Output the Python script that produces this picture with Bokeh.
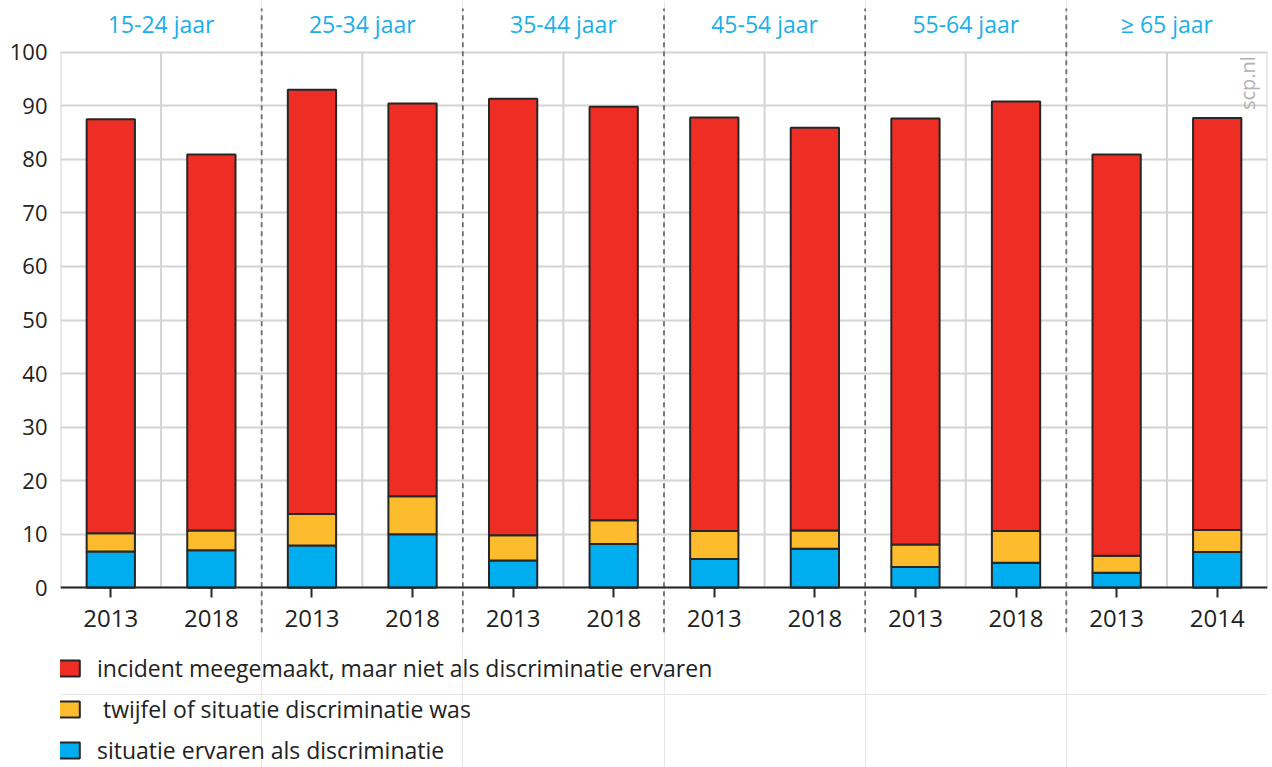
import math
from bokeh.plotting import figure
from bokeh.models import (Range1d, FixedTicker, LinearAxis, Label, Legend,
                          LegendItem, ColumnDataSource, Grid)
from bokeh.embed import file_html
from bokeh.resources import INLINE

# ---- data ----
groups = ["15-24 jaar", "25-34 jaar", "35-44 jaar", "45-54 jaar", "55-64 jaar", "\u2265 65 jaar"]
years = ["2013", "2018", "2013", "2018", "2013", "2018",
         "2013", "2018", "2013", "2018", "2013", "2014"]
ervaren = [6.8, 7.0, 7.9, 10.0, 5.1, 8.2, 5.4, 7.3, 3.9, 4.7, 2.8, 6.7]
twijfel = [3.4, 3.7, 5.9, 7.1, 4.7, 4.4, 5.2, 3.4, 4.2, 5.9, 3.2, 4.1]
incident = [77.3, 70.2, 79.2, 73.3, 81.5, 77.2, 77.2, 75.2, 79.5, 80.2, 74.9, 76.9]
series_keys = ["ervaren", "twijfel", "incident"]
series_labels = ["situatie ervaren als discriminatie",
                 " twijfel of situatie discriminatie was",
                 "incident meegemaakt, maar niet als discriminatie ervaren"]
series_colors = ["#00aeef", "#fdbb2e", "#ee2e24"]
yticks = list(range(0, 101, 10))

n = len(years)
per_group = n // len(groups)
xpos = [i + 0.5 for i in range(n)]
group_centers = [g * per_group + per_group / 2 for g in range(len(groups))]
separators = [g * per_group for g in range(1, len(groups))]
vgrid = [i for i in range(n + 1) if i not in separators]

source = ColumnDataSource(dict(x=xpos, ervaren=ervaren, twijfel=twijfel, incident=incident))

FONT = "Open Sans"
DARK = "#262626"
DASH = "#6e6e6e"
GRID = "#d4d4d4"
DASHPAT = "5 4"

W, H = 1272, 767
# frame spans the full height; value axis 0..100 occupies the upper part
PX_PER_UNIT = 5.356
TOP_PX = 51.7      # pixel row of value 100
ZERO_PX = 587.3    # pixel row of value 0
Y_TOP = 100 + TOP_PX / PX_PER_UNIT
Y_BOTTOM = -(H - ZERO_PX) / PX_PER_UNIT
SEP_HIGH = 100 + (TOP_PX - 8) / PX_PER_UNIT
SEP_LOW = -44.5 / PX_PER_UNIT

p = figure(width=W, height=H, x_range=Range1d(0, n), y_range=Range1d(Y_BOTTOM, Y_TOP),
           output_backend="svg", toolbar_location=None,
           x_axis_location=None, y_axis_location=None,
           min_border_left=60, min_border_right=5, min_border_top=0, min_border_bottom=0,
           outline_line_color=None)

# horizontal grid
p.add_layout(Grid(dimension=1, ticker=FixedTicker(ticks=yticks),
                  grid_line_color=GRID, grid_line_width=2))
# vertical grid (only over the value area)
p.segment(x0=vgrid, x1=vgrid, y0=[yticks[0]] * len(vgrid), y1=[yticks[-1]] * len(vgrid),
          line_color=GRID, line_width=2)
# dashed group separators
p.segment(x0=separators, x1=separators, y0=[SEP_LOW] * len(separators),
          y1=[SEP_HIGH] * len(separators), line_color=DASH, line_width=1.8,
          line_dash=DASHPAT)

# bars
renderers = p.vbar_stack(series_keys, x="x", width=0.48, source=source,
                         fill_color=series_colors, line_color=DARK, line_width=2)

# y axis
yaxis = LinearAxis(ticker=FixedTicker(ticks=yticks),
                   axis_line_color=None, major_tick_line_color=None,
                   minor_tick_line_color=None,
                   major_label_text_font=FONT, major_label_text_font_size="22px",
                   major_label_text_color="#222222", major_label_standoff=7)
p.add_layout(yaxis, "left")

# x axis at value 0
xaxis = LinearAxis(ticker=FixedTicker(ticks=xpos),
                   major_label_overrides={x: y for x, y in zip(xpos, years)},
                   fixed_location=0,
                   axis_line_color=DARK, axis_line_width=2,
                   major_tick_in=0, major_tick_out=10,
                   major_tick_line_color=DARK, major_tick_line_width=2,
                   minor_tick_line_color=None,
                   major_label_text_font=FONT, major_label_text_font_size="24px",
                   major_label_text_color="#222222", major_label_standoff=12)
p.add_layout(xaxis, "below")

# group labels above the value area
gaxis = LinearAxis(ticker=FixedTicker(ticks=group_centers),
                   major_label_overrides={x: g for x, g in zip(group_centers, groups)},
                   fixed_location=100,
                   axis_line_color=None, major_tick_in=0, major_tick_out=0,
                   major_tick_line_color=None, minor_tick_line_color=None,
                   major_label_text_font=FONT, major_label_text_font_size="23px",
                   major_label_text_color="#1aafe8", major_label_standoff=12)
p.add_layout(gaxis, "above")

# watermark
p.add_layout(Label(x=n, y=100, x_offset=-7, y_offset=-4, text="scp.nl",
                   angle=math.pi / 2, text_align="right", text_baseline="bottom",
                   text_font=FONT, text_font_size="20px", text_color="#b2b2b2"))

# legend
items = [LegendItem(label=series_labels[i], renderers=[renderers[i]]) for i in (2, 1, 0)]
legend = Legend(items=items, location=(-5, 1), orientation="vertical",
                glyph_width=27, glyph_height=20, label_standoff=15, spacing=9,
                padding=0, margin=0, border_line_color=None, background_fill_alpha=0,
                label_text_font=FONT, label_text_font_size="23px",
                label_text_color="#222222")
p.add_layout(legend, "center")

open("out.html", "w").write(file_html(p, INLINE))
